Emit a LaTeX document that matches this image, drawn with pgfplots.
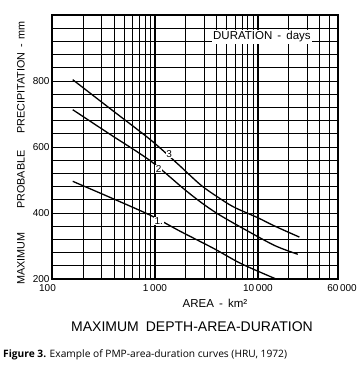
\documentclass[border=0pt]{standalone}
\usepackage{fontspec}
\setmainfont{Liberation Sans}
\newfontfamily\capfont{Open Sans}
\usepackage{pgfplots}
\pgfplotsset{compat=1.18}

% curves: area (km2), depth (mm)
\pgfplotstableread{
x y
159 804
368 716
904 622
1648 550
2780 485
4045 449
5836 418
9930 386
14420 361
25300 327
}\durthree
\pgfplotstableread{
x y
159 713
368 638
904 558
1910 473
2780 433
4045 398
6825 357
14420 302
24400 275
}\durtwo
\pgfplotstableread{
x y
159 496
368 447
904 393
1774 344
3750 292
6825 247
15000 200
}\durone

\begin{document}
\begin{tikzpicture}[x=1pt,y=1pt]
\useasboundingbox (0,0) rectangle (361,369);
\begin{axis}[
    at={(52pt,90pt)}, anchor=south west,
    scale only axis, width=286pt, height=264pt,
    xmode=log, xmin=100, xmax=60000, ymin=200, ymax=1000,
    xtick={100,1000,10000,60000},
    xticklabels={\hspace*{-9pt}100,1\,000,10\,000,60\,000\hspace*{-8pt}},
    minor xtick={200,300,400,500,600,700,800,900,2000,3000,4000,5000,6000,7000,8000,9000,20000,30000,40000,50000},
    ytick={200,400,600,800},
    yticklabels={200,400,600,800},
    minor ytick={240,280,320,360,440,480,520,560,640,680,720,760,840,880,920,960},
    extra x ticks={1000,10000}, extra x tick labels={},
    extra x tick style={major grid style={black, line width=1.4pt}},
    extra y ticks={480}, extra y tick labels={},
    extra y tick style={major grid style={black, line width=1.6pt}},
    grid=both,
    major grid style={black, line width=1pt},
    minor grid style={black, line width=0.9pt},
    axis line style={black, line width=1.2pt},
    major tick length=0pt, minor tick length=0pt,
    tick label style={font=\fontsize{10}{12}\selectfont},
    xticklabel style={yshift=-2pt},
    yticklabel style={xshift=1pt},
    clip=false,
]
\addplot[black, line width=1.3pt, smooth] table[x=x,y=y] {\durthree};
\addplot[black, line width=1.3pt, smooth] table[x=x,y=y] {\durtwo};
\addplot[black, line width=1.3pt, smooth] table[x=x,y=y] {\durone};
\node[fill=white, inner sep=0.6pt, font=\fontsize{10}{12}\selectfont] at (axis cs:1371,578) {3};
\node[fill=white, inner sep=0.6pt, font=\fontsize{10}{12}\selectfont] at (axis cs:1089,533) {2};
\node[fill=white, inner sep=0.6pt, font=\fontsize{10}{12}\selectfont] at (axis cs:1089,377) {1.};
\node[fill=white, inner sep=1.5pt, font=\fontsize{11.5}{13}\selectfont] at (axis cs:10940,934) {DURATION\, -\, days};
\end{axis}
\node[rotate=90, font=\fontsize{10.8}{12}\selectfont] at (21,216) {MAXIMUM\hspace{24pt}PROBABLE\hspace{17pt}PRECIPITATION\, -\, mm};
\node[font=\fontsize{11.5}{13}\selectfont] at (215,66) {AREA\, -\, km²};
\node[font=\fontsize{14}{16}\selectfont] at (192,42) {MAXIMUM\enspace DEPTH-AREA-DURATION};
\node[anchor=base west, inner sep=0pt, font=\capfont\fontsize{10.2}{12}\selectfont] at (3,11) {\textbf{Figure 3.} Example of PMP-area-duration curves (HRU, 1972)};
\end{tikzpicture}
\end{document}
